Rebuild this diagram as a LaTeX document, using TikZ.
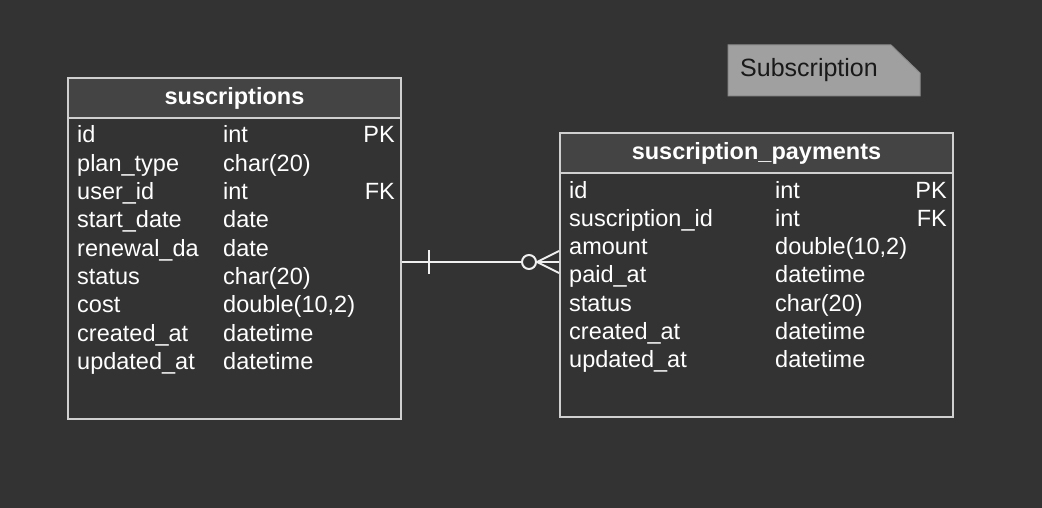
\documentclass[tikz,border=0pt]{standalone}
\usepackage{fontspec}
\setmainfont{Liberation Sans}
\definecolor{bgc}{HTML}{333333}
\definecolor{hdrc}{HTML}{444444}
\definecolor{bordc}{HTML}{D0D0D0}
\definecolor{linec}{HTML}{F0F0F0}
\definecolor{notec}{HTML}{A0A0A0}
\definecolor{noted}{HTML}{8C8C8C}
\begin{document}
\begin{tikzpicture}[x=1pt,y=-1pt,
  font=\fontsize{23.5}{28}\selectfont,
  tbody/.style={draw=bordc, line width=2pt, inner sep=0pt, anchor=north west},
  thead/.style={fill=hdrc, draw=bordc, line width=2pt, inner sep=0pt, anchor=north west, text=white, font=\fontsize{23.5}{28}\selectfont\bfseries},
  cell/.style={anchor=base west, inner sep=0pt, text=white},
  keycell/.style={anchor=base east, inner sep=0pt, text=white},
  rel/.style={draw=linec, line width=2pt},
  notebox/.style={fill=notec, draw=noted, line width=1pt}]
\fill[bgc] (0,0) rectangle (1042,508);
\useasboundingbox (0,0) rectangle (1042,508);

% left table
\node[tbody, minimum width=333pt, minimum height=341pt] (tl) at (67,77) {};
\node[thead, minimum width=333pt, minimum height=40pt] (tlh) at (67,77) {suscriptions};
\foreach \n/\t/\k [count=\i from 0] in {id/int/PK, plan\_type/char(20)/, user\_id/int/FK, start\_date/date/, renewal\_da/date/, status/char(20)/, cost/double(10{,}2)/, created\_at/datetime/, updated\_at/datetime/}{
  \node[cell] (ln\i) at (77,143+28.3*\i) {\n};
  \node[cell] (lt\i) at (223,143+28.3*\i) {\t};
  \node[keycell] (lk\i) at (395,143+28.3*\i) {\k};
}

% right table
\node[tbody, minimum width=393pt, minimum height=284pt] (tr) at (559,132) {};
\node[thead, minimum width=393pt, minimum height=40pt] (trh) at (559,132) {suscription\_payments};
\foreach \n/\t/\k [count=\i from 0] in {id/int/PK, suscription\_id/int/FK, amount/double(10{,}2)/, paid\_at/datetime/, status/char(20)/, created\_at/datetime/, updated\_at/datetime/}{
  \node[cell] (rn\i) at (569,198+28.3*\i) {\n};
  \node[cell] (rt\i) at (775,198+28.3*\i) {\t};
  \node[keycell] (rk\i) at (947,198+28.3*\i) {\k};
}

% relation
\coordinate (ra) at (tl.east |- 0,262);
\coordinate (rb) at (tr.west |- 0,262);
\coordinate (tick) at (429,262);
\node[circle, draw=linec, line width=2pt, fill=bgc, minimum size=14pt, inner sep=0pt] (circ) at (529,262) {};
\draw[rel] (ra) -- (circ.west);
\draw[rel] ([yshift=-12pt]tick) -- ([yshift=12pt]tick);
\draw[rel] (circ.east) -- (rb);
\draw[rel] (circ.east) -- ([yshift=-11pt]rb);
\draw[rel] (circ.east) -- ([yshift=11pt]rb);

% note
\draw[notebox] (728,45) -- (891,45) -- (920,73) -- (920,96) -- (728,96) -- cycle;
\node[anchor=base west, inner sep=0pt, text=black!90, font=\fontsize{25}{30}\selectfont] (note) at (740,77) {Subscription};
\end{tikzpicture}
\end{document}
